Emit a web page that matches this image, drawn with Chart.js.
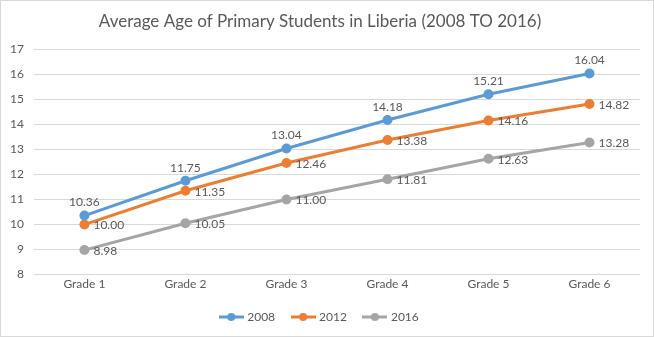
<!DOCTYPE html>
<html>
<head>
<meta charset="utf-8">
<script src="https://cdn.jsdelivr.net/npm/chart.js@4"></script>
<style>
  html, body { margin: 0; padding: 0; background: #fff; }
  #wrap { width: 654px; height: 337px; position: relative; }
</style>
</head>
<body>
<div id="wrap"><canvas id="chart" width="654" height="337"></canvas></div>
<script>
const grades = ['Grade 1', 'Grade 2', 'Grade 3', 'Grade 4', 'Grade 5', 'Grade 6'];
const seriesNames = ['2008', '2012', '2016'];
const age2008 = [10.36, 11.75, 13.04, 14.18, 15.21, 16.04];
const age2012 = [10.00, 11.35, 12.46, 13.38, 14.16, 14.82];
const age2016 = [8.98, 10.05, 11.00, 11.81, 12.63, 13.28];
const seriesColors = ['#5B9BD5', '#ED7D31', '#A5A5A5'];

const textColor = '#595959';
const fontFamily = 'Lato, Carlito, "Open Sans", sans-serif';

// legend marker: short line with a dot, like the office style
function legendMarker(color) {
    const c = document.createElement('canvas');
    c.width = 25;
    c.height = 10;
    const g = c.getContext('2d');
    g.strokeStyle = color;
    g.lineWidth = 3;
    g.beginPath();
    g.moveTo(0, 5);
    g.lineTo(25, 5);
    g.stroke();
    g.fillStyle = color;
    g.beginPath();
    g.arc(12.5, 5, 4, 0, Math.PI * 2);
    g.fill();
    return c;
}

const valueLabels = {
    id: 'valueLabels',
    afterDatasetsDraw(chart) {
        const ctx = chart.ctx;
        ctx.save();
        ctx.font = '12px ' + fontFamily;
        ctx.fillStyle = textColor;
        chart.data.datasets.forEach((ds, i) => {
            const meta = chart.getDatasetMeta(i);
            meta.data.forEach((pt, j) => {
                const txt = ds.data[j].toFixed(2);
                if (i === 0) {
                    ctx.textAlign = 'center';
                    ctx.textBaseline = 'bottom';
                    ctx.fillText(txt, pt.x, pt.y - 7);
                } else {
                    ctx.textAlign = 'left';
                    ctx.textBaseline = 'middle';
                    ctx.fillText(txt, pt.x + 9, pt.y + 1);
                }
            });
        });
        ctx.restore();
    }
};

const chartBorder = {
    id: 'chartBorder',
    beforeDraw(chart) {
        const ctx = chart.ctx;
        ctx.save();
        ctx.fillStyle = '#fff';
        ctx.fillRect(0, 0, chart.width, chart.height);
        ctx.strokeStyle = '#d9d9d9';
        ctx.lineWidth = 1;
        ctx.strokeRect(0.5, 0.5, chart.width - 1, chart.height - 1);
        ctx.restore();
    }
};

const allSeries = [age2008, age2012, age2016];

new Chart(document.getElementById('chart'), {
    type: 'line',
    data: {
        labels: grades,
        datasets: allSeries.map((vals, i) => ({
            label: seriesNames[i],
            data: vals,
            borderColor: seriesColors[i],
            backgroundColor: seriesColors[i],
            borderWidth: 3,
            pointStyle: 'circle',
            pointRadius: 3.5,
            pointHoverRadius: 3.5,
            tension: 0
        }))
    },
    options: {
        responsive: false,
        animation: false,
        layout: { padding: { left: 0, right: 14, top: 6, bottom: 4 } },
        plugins: {
            title: {
                display: true,
                text: 'Average Age of Primary Students in Liberia (2008 TO 2016)',
                color: textColor,
                font: { family: fontFamily, size: 17, weight: 'normal' },
                padding: { top: 5, bottom: 18 }
            },
            legend: {
                position: 'bottom',
                labels: {
                    color: textColor,
                    font: { family: fontFamily, size: 12 },
                    usePointStyle: true,
                    pointStyleWidth: 20,
                    boxHeight: 10,
                    padding: 18,
                    generateLabels(chart) {
                        return chart.data.datasets.map((ds, i) => ({
                            text: ds.label,
                            fillStyle: seriesColors[i],
                            strokeStyle: seriesColors[i],
                            lineWidth: 0,
                            pointStyle: legendMarker(seriesColors[i]),
                            fontColor: textColor,
                            hidden: false,
                            datasetIndex: i
                        }));
                    }
                }
            },
            tooltip: { enabled: false }
        },
        scales: {
            x: {
                offset: true,
                grid: { display: false, drawTicks: false },
                border: { display: false },
                ticks: { color: textColor, font: { family: fontFamily, size: 12 }, padding: 2 }
            },
            y: {
                min: 8,
                max: 17,
                ticks: { stepSize: 1, color: textColor, font: { family: fontFamily, size: 12 }, padding: 10 },
                grid: { color: '#d9d9d9', drawTicks: false },
                border: { display: false }
            }
        }
    },
    plugins: [chartBorder, valueLabels]
});
</script>
</body>
</html>
